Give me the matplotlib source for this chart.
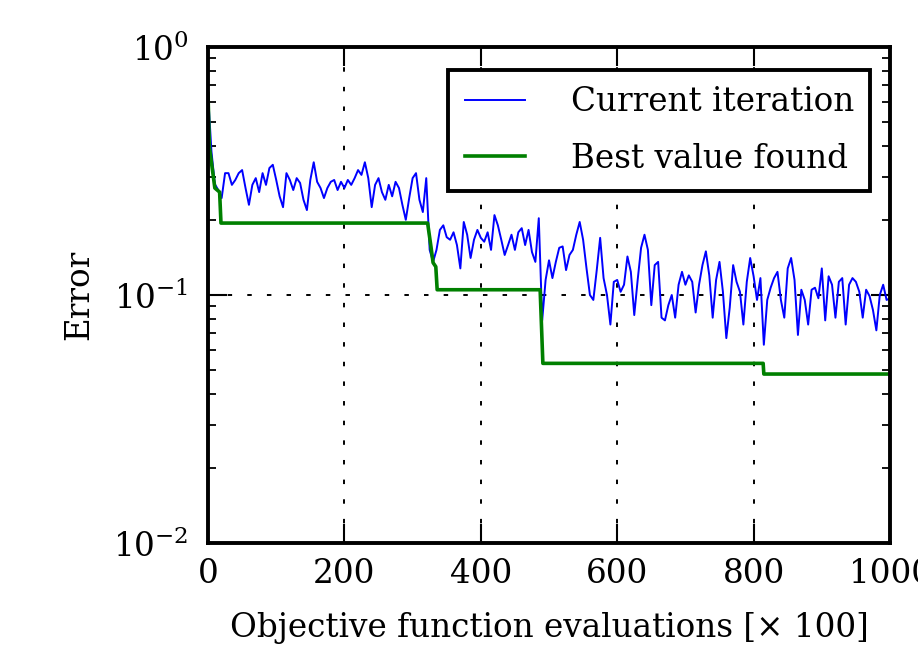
import numpy as np
import matplotlib
matplotlib.use("Agg")
import matplotlib.pyplot as plt

# current iteration error, sampled every 5 (x100) evaluations
current_x = np.arange(0, 1001, 5)
current_err = [
    0.65, 0.38, 0.28, 0.265, 0.246, 0.31, 0.31, 0.278, 0.291, 0.31,
    0.319, 0.27, 0.231, 0.278, 0.296, 0.26, 0.31, 0.278, 0.325, 0.335,
    0.291, 0.25, 0.226, 0.31, 0.291, 0.265, 0.296, 0.283, 0.242, 0.22,
    0.291, 0.343, 0.286, 0.27, 0.246, 0.27, 0.286, 0.291, 0.265, 0.286,
    0.27, 0.291, 0.278, 0.296, 0.319, 0.305, 0.343, 0.296, 0.226, 0.278,
    0.296, 0.26, 0.242, 0.278, 0.25, 0.286, 0.27, 0.231, 0.201, 0.246,
    0.296, 0.31, 0.242, 0.216, 0.296, 0.152, 0.136, 0.152, 0.183, 0.191,
    0.171, 0.167, 0.179, 0.159, 0.128, 0.197, 0.175, 0.141, 0.167, 0.183,
    0.170, 0.164, 0.179, 0.152, 0.21, 0.191, 0.167, 0.145, 0.159, 0.175,
    0.152, 0.179, 0.186, 0.159, 0.183, 0.149, 0.136, 0.204, 0.079, 0.115,
    0.138, 0.117, 0.136, 0.155, 0.157, 0.126, 0.145, 0.152, 0.175, 0.197,
    0.167, 0.128, 0.1, 0.0955, 0.126, 0.17, 0.117, 0.1, 0.076, 0.113,
    0.115, 0.103, 0.11, 0.143, 0.124, 0.083, 0.115, 0.155, 0.175, 0.152,
    0.091, 0.132, 0.136, 0.081, 0.079, 0.091, 0.1, 0.081, 0.11, 0.124,
    0.11, 0.12, 0.113, 0.085, 0.11, 0.132, 0.15, 0.12, 0.081, 0.115,
    0.136, 0.103, 0.067, 0.089, 0.132, 0.113, 0.103, 0.076, 0.113, 0.141,
    0.119, 0.0955, 0.117, 0.063, 0.0955, 0.107, 0.117, 0.124, 0.0955, 0.081,
    0.128, 0.141, 0.115, 0.069, 0.105, 0.0955, 0.076, 0.105, 0.107, 0.097,
    0.128, 0.079, 0.119, 0.11, 0.081, 0.113, 0.117, 0.076, 0.11, 0.117,
    0.113, 0.103, 0.081, 0.105, 0.099, 0.087, 0.072, 0.1, 0.11, 0.0955,
    0.097,
]

# best value found so far (step-wise)
best_x = [0, 2, 10, 17, 19, 322, 327, 330, 334, 336, 487, 491, 814, 815, 1000]
best_err = [0.65, 0.395, 0.27, 0.26, 0.195, 0.195, 0.156, 0.135, 0.13, 0.105,
            0.105, 0.053, 0.053, 0.048, 0.048]

plt.rcParams["font.family"] = "DejaVu Serif"
plt.rcParams["mathtext.fontset"] = "dejavuserif"
FS = 23.5

fig = plt.figure(figsize=(9.18, 6.53), dpi=100)
ax = fig.add_axes([0.2266, 0.1685, 0.9695 - 0.2266, 0.928 - 0.1685])

ax.plot(current_x, current_err, color="blue", linewidth=1.4, label="Current iteration")
ax.plot(best_x, best_err, color="green", linewidth=2.6, label="Best value found")

ax.set_yscale("log")
ax.set_xlim(0, 1000)
ax.set_ylim(1e-2, 1e0)
ax.set_xticks([0, 200, 400, 600, 800, 1000])

ax.grid(True, which="major", color="black", linewidth=1.4,
        linestyle=(0, (2.3, 7.8)))

for s in ax.spines.values():
    s.set_linewidth(2.8)

ax.tick_params(which="major", direction="in", length=14, width=1.5,
               top=True, right=True, labelsize=FS)
ax.tick_params(axis="x", which="major", pad=11)
ax.tick_params(axis="y", which="major", pad=14)
ax.tick_params(which="minor", direction="in", length=6, width=1.3,
               top=True, right=True)
ax.minorticks_off()
ax.yaxis.set_minor_locator(matplotlib.ticker.LogLocator(base=10, subs=np.arange(2, 10)))

ax.set_xlabel("Objective function evaluations [× 100]", fontsize=FS, labelpad=16)
ax.set_ylabel("Error", fontsize=FS, labelpad=13)

leg = ax.legend(loc="upper right", bbox_to_anchor=(0.971, 0.954), borderaxespad=0,
                fontsize=FS, handlelength=1.85, handletextpad=1.4, borderpad=0.5,
                labelspacing=0.75, fancybox=False, framealpha=1, edgecolor="black")
leg.get_frame().set_linewidth(2.8)

fig.savefig("out.png", dpi=100)
